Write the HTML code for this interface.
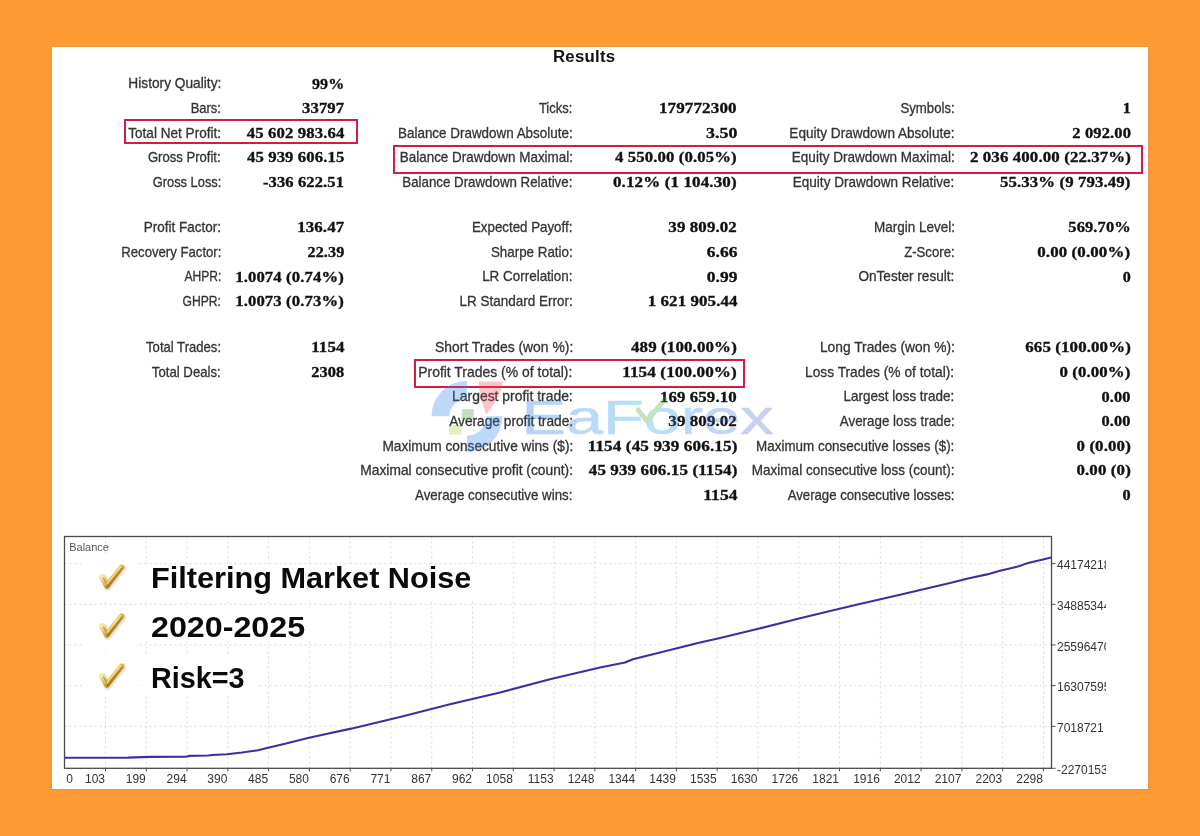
<!DOCTYPE html>
<html><head><meta charset="utf-8"><style>
html,body{margin:0;padding:0;}
body{width:1200px;height:836px;overflow:hidden;background:#fe9a33;position:relative;font-family:"Liberation Sans",sans-serif;}
#wrap{position:absolute;left:0;top:0;width:1200px;height:836px;filter:blur(0.5px);}
.panel{position:absolute;left:52px;top:47px;width:1096px;height:742px;background:#fff;box-shadow:0 0 0 1px rgba(200,140,80,0.35);}
.t{position:absolute;white-space:nowrap;line-height:1;}
.box{position:absolute;box-sizing:border-box;border:2.9px solid #d41a48;}
.chart{position:absolute;left:0;top:0;}
.g{stroke:#d9d9d9;stroke-width:1;stroke-dasharray:2 3;}
.tk{stroke:#4a4a4a;stroke-width:1;}
.ck{position:absolute;}
.pp{}
.pc{}
.pc0{}
</style></head><body>
<div id="wrap">
<div class="panel"></div>
<div class="t" style="right:979.00px;top:76.48px;font-size:14.5px;letter-spacing:0px;color:#333;transform:scaleX(0.9455);transform-origin:100% 0;-webkit-text-stroke:0.3px #333;">History Quality:</div>
<div class="t" style="right:856.00px;top:75.63px;font-size:15.5px;letter-spacing:0.1px;font-weight:bold;color:#111;font-family:'Liberation Serif',serif;-webkit-text-stroke:0.35px #111;transform:scaleX(1.0323);transform-origin:100% 0;">99<span style="letter-spacing:0"><span class="pc0">%</span></span></div>
<div class="t" style="right:979.00px;top:101.08px;font-size:14.5px;letter-spacing:0px;color:#333;transform:scaleX(0.8925);transform-origin:100% 0;-webkit-text-stroke:0.3px #333;">Bars:</div>
<div class="t" style="right:856.00px;top:100.23px;font-size:15.5px;letter-spacing:0.1px;font-weight:bold;color:#111;font-family:'Liberation Serif',serif;-webkit-text-stroke:0.35px #111;transform:scaleX(1.0769);transform-origin:100% 0;">3379<span style="letter-spacing:0">7</span></div>
<div class="t" style="right:979.00px;top:125.68px;font-size:14.5px;letter-spacing:0px;color:#333;transform:scaleX(0.9376);transform-origin:100% 0;-webkit-text-stroke:0.3px #333;">Total Net Profit:</div>
<div class="t" style="right:856.00px;top:124.83px;font-size:15.5px;letter-spacing:0.1px;font-weight:bold;color:#111;font-family:'Liberation Serif',serif;-webkit-text-stroke:0.35px #111;transform:scaleX(1.0800);transform-origin:100% 0;">45 602 983.6<span style="letter-spacing:0">4</span></div>
<div class="t" style="right:979.00px;top:150.28px;font-size:14.5px;letter-spacing:0px;color:#333;transform:scaleX(0.9021);transform-origin:100% 0;-webkit-text-stroke:0.3px #333;">Gross Profit:</div>
<div class="t" style="right:856.00px;top:149.43px;font-size:15.5px;letter-spacing:0.1px;font-weight:bold;color:#111;font-family:'Liberation Serif',serif;-webkit-text-stroke:0.35px #111;transform:scaleX(1.0778);transform-origin:100% 0;">45 939 606.1<span style="letter-spacing:0">5</span></div>
<div class="t" style="right:979.00px;top:174.88px;font-size:14.5px;letter-spacing:0px;color:#333;transform:scaleX(0.8874);transform-origin:100% 0;-webkit-text-stroke:0.3px #333;">Gross Loss:</div>
<div class="t" style="right:856.00px;top:174.03px;font-size:15.5px;letter-spacing:0.1px;font-weight:bold;color:#111;font-family:'Liberation Serif',serif;-webkit-text-stroke:0.35px #111;transform:scaleX(1.0658);transform-origin:100% 0;">-336 622.5<span style="letter-spacing:0">1</span></div>
<div class="t" style="right:979.00px;top:220.23px;font-size:14.5px;letter-spacing:0px;color:#333;transform:scaleX(0.9300);transform-origin:100% 0;-webkit-text-stroke:0.3px #333;">Profit Factor:</div>
<div class="t" style="right:856.00px;top:219.38px;font-size:15.5px;letter-spacing:0.1px;font-weight:bold;color:#111;font-family:'Liberation Serif',serif;-webkit-text-stroke:0.35px #111;transform:scaleX(1.0893);transform-origin:100% 0;">136.4<span style="letter-spacing:0">7</span></div>
<div class="t" style="right:979.00px;top:244.83px;font-size:14.5px;letter-spacing:0px;color:#333;transform:scaleX(0.9070);transform-origin:100% 0;-webkit-text-stroke:0.3px #333;">Recovery Factor:</div>
<div class="t" style="right:856.00px;top:243.98px;font-size:15.5px;letter-spacing:0.1px;font-weight:bold;color:#111;font-family:'Liberation Serif',serif;-webkit-text-stroke:0.35px #111;transform:scaleX(1.0429);transform-origin:100% 0;">22.3<span style="letter-spacing:0">9</span></div>
<div class="t" style="right:979.00px;top:269.43px;font-size:14.5px;letter-spacing:0px;color:#333;transform:scaleX(0.8336);transform-origin:100% 0;-webkit-text-stroke:0.3px #333;">AHPR:</div>
<div class="t" style="right:856.00px;top:268.58px;font-size:15.5px;letter-spacing:0.1px;font-weight:bold;color:#111;font-family:'Liberation Serif',serif;-webkit-text-stroke:0.35px #111;transform:scaleX(1.0775);transform-origin:100% 0;">1.0074 <span class="pp">(</span>0.74<span class="pc">%</span><span style="letter-spacing:0">)</span></div>
<div class="t" style="right:979.00px;top:294.03px;font-size:14.5px;letter-spacing:0px;color:#333;transform:scaleX(0.8359);transform-origin:100% 0;-webkit-text-stroke:0.3px #333;">GHPR:</div>
<div class="t" style="right:856.00px;top:293.18px;font-size:15.5px;letter-spacing:0.1px;font-weight:bold;color:#111;font-family:'Liberation Serif',serif;-webkit-text-stroke:0.35px #111;transform:scaleX(1.0775);transform-origin:100% 0;">1.0073 <span class="pp">(</span>0.73<span class="pc">%</span><span style="letter-spacing:0">)</span></div>
<div class="t" style="right:979.00px;top:340.23px;font-size:14.5px;letter-spacing:0px;color:#333;transform:scaleX(0.9028);transform-origin:100% 0;-webkit-text-stroke:0.3px #333;">Total Trades:</div>
<div class="t" style="right:856.00px;top:339.38px;font-size:15.5px;letter-spacing:0.1px;font-weight:bold;color:#111;font-family:'Liberation Serif',serif;-webkit-text-stroke:0.35px #111;transform:scaleX(1.0917);transform-origin:100% 0;">115<span style="letter-spacing:0">4</span></div>
<div class="t" style="right:979.00px;top:364.83px;font-size:14.5px;letter-spacing:0px;color:#333;transform:scaleX(0.9101);transform-origin:100% 0;-webkit-text-stroke:0.3px #333;">Total Deals:</div>
<div class="t" style="right:856.00px;top:363.98px;font-size:15.5px;letter-spacing:0.1px;font-weight:bold;color:#111;font-family:'Liberation Serif',serif;-webkit-text-stroke:0.35px #111;transform:scaleX(1.0565);transform-origin:100% 0;">230<span style="letter-spacing:0">8</span></div>
<div class="t" style="right:627.20px;top:101.08px;font-size:14.5px;letter-spacing:0px;color:#333;transform:scaleX(0.8953);transform-origin:100% 0;-webkit-text-stroke:0.3px #333;">Ticks:</div>
<div class="t" style="right:463.00px;top:100.23px;font-size:15.5px;letter-spacing:0.1px;font-weight:bold;color:#111;font-family:'Liberation Serif',serif;-webkit-text-stroke:0.35px #111;transform:scaleX(1.1000);transform-origin:100% 0;">17977230<span style="letter-spacing:0">0</span></div>
<div class="t" style="right:627.20px;top:125.68px;font-size:14.5px;letter-spacing:0px;color:#333;transform:scaleX(0.9257);transform-origin:100% 0;-webkit-text-stroke:0.3px #333;">Balance Drawdown Absolute:</div>
<div class="t" style="right:463.00px;top:124.83px;font-size:15.5px;letter-spacing:0.1px;font-weight:bold;color:#111;font-family:'Liberation Serif',serif;-webkit-text-stroke:0.35px #111;transform:scaleX(1.1481);transform-origin:100% 0;">3.5<span style="letter-spacing:0">0</span></div>
<div class="t" style="right:627.20px;top:150.28px;font-size:14.5px;letter-spacing:0px;color:#333;transform:scaleX(0.9262);transform-origin:100% 0;-webkit-text-stroke:0.3px #333;">Balance Drawdown Maximal:</div>
<div class="t" style="right:463.00px;top:149.43px;font-size:15.5px;letter-spacing:0.1px;font-weight:bold;color:#111;font-family:'Liberation Serif',serif;-webkit-text-stroke:0.35px #111;transform:scaleX(1.0796);transform-origin:100% 0;">4 550.00 <span class="pp">(</span>0.05<span class="pc">%</span><span style="letter-spacing:0">)</span></div>
<div class="t" style="right:627.20px;top:174.88px;font-size:14.5px;letter-spacing:0px;color:#333;transform:scaleX(0.9175);transform-origin:100% 0;-webkit-text-stroke:0.3px #333;">Balance Drawdown Relative:</div>
<div class="t" style="right:463.00px;top:174.03px;font-size:15.5px;letter-spacing:0.1px;font-weight:bold;color:#111;font-family:'Liberation Serif',serif;-webkit-text-stroke:0.35px #111;transform:scaleX(1.0982);transform-origin:100% 0;">0.12<span class="pc">%</span> <span class="pp">(</span>1 104.30<span style="letter-spacing:0">)</span></div>
<div class="t" style="right:627.20px;top:220.23px;font-size:14.5px;letter-spacing:0px;color:#333;transform:scaleX(0.9180);transform-origin:100% 0;-webkit-text-stroke:0.3px #333;">Expected Payoff:</div>
<div class="t" style="right:463.00px;top:219.38px;font-size:15.5px;letter-spacing:0.1px;font-weight:bold;color:#111;font-family:'Liberation Serif',serif;-webkit-text-stroke:0.35px #111;transform:scaleX(1.0905);transform-origin:100% 0;">39 809.0<span style="letter-spacing:0">2</span></div>
<div class="t" style="right:627.20px;top:244.83px;font-size:14.5px;letter-spacing:0px;color:#333;transform:scaleX(0.9220);transform-origin:100% 0;-webkit-text-stroke:0.3px #333;">Sharpe Ratio:</div>
<div class="t" style="right:463.00px;top:243.98px;font-size:15.5px;letter-spacing:0.1px;font-weight:bold;color:#111;font-family:'Liberation Serif',serif;-webkit-text-stroke:0.35px #111;transform:scaleX(1.1222);transform-origin:100% 0;">6.6<span style="letter-spacing:0">6</span></div>
<div class="t" style="right:627.20px;top:269.43px;font-size:14.5px;letter-spacing:0px;color:#333;transform:scaleX(0.9269);transform-origin:100% 0;-webkit-text-stroke:0.3px #333;">LR Correlation:</div>
<div class="t" style="right:463.00px;top:268.58px;font-size:15.5px;letter-spacing:0.1px;font-weight:bold;color:#111;font-family:'Liberation Serif',serif;-webkit-text-stroke:0.35px #111;transform:scaleX(1.1222);transform-origin:100% 0;">0.9<span style="letter-spacing:0">9</span></div>
<div class="t" style="right:627.20px;top:294.03px;font-size:14.5px;letter-spacing:0px;color:#333;transform:scaleX(0.9300);transform-origin:100% 0;-webkit-text-stroke:0.3px #333;">LR Standard Error:</div>
<div class="t" style="right:463.00px;top:293.18px;font-size:15.5px;letter-spacing:0.1px;font-weight:bold;color:#111;font-family:'Liberation Serif',serif;-webkit-text-stroke:0.35px #111;transform:scaleX(1.0890);transform-origin:100% 0;">1 621 905.4<span style="letter-spacing:0">4</span></div>
<div class="t" style="right:627.20px;top:340.23px;font-size:14.5px;letter-spacing:0px;color:#333;transform:scaleX(0.9580);transform-origin:100% 0;-webkit-text-stroke:0.3px #333;">Short Trades (won %):</div>
<div class="t" style="right:463.00px;top:339.38px;font-size:15.5px;letter-spacing:0.1px;font-weight:bold;color:#111;font-family:'Liberation Serif',serif;-webkit-text-stroke:0.35px #111;transform:scaleX(1.0928);transform-origin:100% 0;">489 <span class="pp">(</span>100.00<span class="pc">%</span><span style="letter-spacing:0">)</span></div>
<div class="t" style="right:627.20px;top:364.83px;font-size:14.5px;letter-spacing:0px;color:#333;transform:scaleX(0.9613);transform-origin:100% 0;-webkit-text-stroke:0.3px #333;">Profit Trades (% of total):</div>
<div class="t" style="right:463.00px;top:363.98px;font-size:15.5px;letter-spacing:0.1px;font-weight:bold;color:#111;font-family:'Liberation Serif',serif;-webkit-text-stroke:0.35px #111;transform:scaleX(1.1039);transform-origin:100% 0;">1154 <span class="pp">(</span>100.00<span class="pc">%</span><span style="letter-spacing:0">)</span></div>
<div class="t" style="right:627.20px;top:389.43px;font-size:14.5px;letter-spacing:0px;color:#333;transform:scaleX(0.9597);transform-origin:100% 0;-webkit-text-stroke:0.3px #333;">Largest profit trade:</div>
<div class="t" style="right:463.00px;top:388.58px;font-size:15.5px;letter-spacing:0.1px;font-weight:bold;color:#111;font-family:'Liberation Serif',serif;-webkit-text-stroke:0.35px #111;transform:scaleX(1.0857);transform-origin:100% 0;">169 659.1<span style="letter-spacing:0">0</span></div>
<div class="t" style="right:627.20px;top:414.03px;font-size:14.5px;letter-spacing:0px;color:#333;transform:scaleX(0.9453);transform-origin:100% 0;-webkit-text-stroke:0.3px #333;">Average profit trade:</div>
<div class="t" style="right:463.00px;top:413.18px;font-size:15.5px;letter-spacing:0.1px;font-weight:bold;color:#111;font-family:'Liberation Serif',serif;-webkit-text-stroke:0.35px #111;transform:scaleX(1.0905);transform-origin:100% 0;">39 809.0<span style="letter-spacing:0">2</span></div>
<div class="t" style="right:627.20px;top:438.63px;font-size:14.5px;letter-spacing:0px;color:#333;transform:scaleX(0.9434);transform-origin:100% 0;-webkit-text-stroke:0.3px #333;">Maximum consecutive wins ($):</div>
<div class="t" style="right:463.00px;top:437.78px;font-size:15.5px;letter-spacing:0.1px;font-weight:bold;color:#111;font-family:'Liberation Serif',serif;-webkit-text-stroke:0.35px #111;transform:scaleX(1.1059);transform-origin:100% 0;">1154 <span class="pp">(</span>45 939 606.15<span style="letter-spacing:0">)</span></div>
<div class="t" style="right:627.20px;top:463.23px;font-size:14.5px;letter-spacing:0px;color:#333;transform:scaleX(0.9493);transform-origin:100% 0;-webkit-text-stroke:0.3px #333;">Maximal consecutive profit (count):</div>
<div class="t" style="right:463.00px;top:462.38px;font-size:15.5px;letter-spacing:0.1px;font-weight:bold;color:#111;font-family:'Liberation Serif',serif;-webkit-text-stroke:0.35px #111;transform:scaleX(1.0978);transform-origin:100% 0;">45 939 606.15 <span class="pp">(</span>1154<span style="letter-spacing:0">)</span></div>
<div class="t" style="right:627.20px;top:487.83px;font-size:14.5px;letter-spacing:0px;color:#333;transform:scaleX(0.9184);transform-origin:100% 0;-webkit-text-stroke:0.3px #333;">Average consecutive wins:</div>
<div class="t" style="right:463.00px;top:486.98px;font-size:15.5px;letter-spacing:0.1px;font-weight:bold;color:#111;font-family:'Liberation Serif',serif;-webkit-text-stroke:0.35px #111;transform:scaleX(1.1233);transform-origin:100% 0;">115<span style="letter-spacing:0">4</span></div>
<div class="t" style="right:245.40px;top:101.08px;font-size:14.5px;letter-spacing:0px;color:#333;transform:scaleX(0.9079);transform-origin:100% 0;-webkit-text-stroke:0.3px #333;">Symbols:</div>
<div class="t" style="right:69.50px;top:100.23px;font-size:15.5px;letter-spacing:0.1px;font-weight:bold;color:#111;font-family:'Liberation Serif',serif;-webkit-text-stroke:0.35px #111;transform:scaleX(1.0462);transform-origin:100% 0;"><span style="letter-spacing:0">1</span></div>
<div class="t" style="right:245.40px;top:125.68px;font-size:14.5px;letter-spacing:0px;color:#333;transform:scaleX(0.9357);transform-origin:100% 0;-webkit-text-stroke:0.3px #333;">Equity Drawdown Absolute:</div>
<div class="t" style="right:69.50px;top:124.83px;font-size:15.5px;letter-spacing:0.1px;font-weight:bold;color:#111;font-family:'Liberation Serif',serif;-webkit-text-stroke:0.35px #111;transform:scaleX(1.0679);transform-origin:100% 0;">2 092.0<span style="letter-spacing:0">0</span></div>
<div class="t" style="right:245.40px;top:150.28px;font-size:14.5px;letter-spacing:0px;color:#333;transform:scaleX(0.9323);transform-origin:100% 0;-webkit-text-stroke:0.3px #333;">Equity Drawdown Maximal:</div>
<div class="t" style="right:69.50px;top:149.43px;font-size:15.5px;letter-spacing:0.1px;font-weight:bold;color:#111;font-family:'Liberation Serif',serif;-webkit-text-stroke:0.35px #111;transform:scaleX(1.0881);transform-origin:100% 0;">2 036 400.00 <span class="pp">(</span>22.37<span class="pc">%</span><span style="letter-spacing:0">)</span></div>
<div class="t" style="right:245.40px;top:174.88px;font-size:14.5px;letter-spacing:0px;color:#333;transform:scaleX(0.9317);transform-origin:100% 0;-webkit-text-stroke:0.3px #333;">Equity Drawdown Relative:</div>
<div class="t" style="right:69.50px;top:174.03px;font-size:15.5px;letter-spacing:0.1px;font-weight:bold;color:#111;font-family:'Liberation Serif',serif;-webkit-text-stroke:0.35px #111;transform:scaleX(1.0830);transform-origin:100% 0;">55.33<span class="pc">%</span> <span class="pp">(</span>9 793.49<span style="letter-spacing:0">)</span></div>
<div class="t" style="right:245.40px;top:220.23px;font-size:14.5px;letter-spacing:0px;color:#333;transform:scaleX(0.9300);transform-origin:100% 0;-webkit-text-stroke:0.3px #333;">Margin Level:</div>
<div class="t" style="right:69.50px;top:219.38px;font-size:15.5px;letter-spacing:0.1px;font-weight:bold;color:#111;font-family:'Liberation Serif',serif;-webkit-text-stroke:0.35px #111;transform:scaleX(1.0632);transform-origin:100% 0;">569.70<span style="letter-spacing:0"><span class="pc0">%</span></span></div>
<div class="t" style="right:245.40px;top:244.83px;font-size:14.5px;letter-spacing:0px;color:#333;transform:scaleX(0.9066);transform-origin:100% 0;-webkit-text-stroke:0.3px #333;">Z-Score:</div>
<div class="t" style="right:69.50px;top:243.98px;font-size:15.5px;letter-spacing:0.1px;font-weight:bold;color:#111;font-family:'Liberation Serif',serif;-webkit-text-stroke:0.35px #111;transform:scaleX(1.0911);transform-origin:100% 0;">0.00 <span class="pp">(</span>0.00<span class="pc">%</span><span style="letter-spacing:0">)</span></div>
<div class="t" style="right:245.40px;top:269.43px;font-size:14.5px;letter-spacing:0px;color:#333;transform:scaleX(0.9369);transform-origin:100% 0;-webkit-text-stroke:0.3px #333;">OnTester result:</div>
<div class="t" style="right:69.50px;top:268.58px;font-size:15.5px;letter-spacing:0.1px;font-weight:bold;color:#111;font-family:'Liberation Serif',serif;-webkit-text-stroke:0.35px #111;transform:scaleX(1.0400);transform-origin:100% 0;"><span style="letter-spacing:0">0</span></div>
<div class="t" style="right:245.40px;top:340.23px;font-size:14.5px;letter-spacing:0px;color:#333;transform:scaleX(0.9514);transform-origin:100% 0;-webkit-text-stroke:0.3px #333;">Long Trades (won %):</div>
<div class="t" style="right:69.50px;top:339.38px;font-size:15.5px;letter-spacing:0.1px;font-weight:bold;color:#111;font-family:'Liberation Serif',serif;-webkit-text-stroke:0.35px #111;transform:scaleX(1.0902);transform-origin:100% 0;">665 <span class="pp">(</span>100.00<span class="pc">%</span><span style="letter-spacing:0">)</span></div>
<div class="t" style="right:245.40px;top:364.83px;font-size:14.5px;letter-spacing:0px;color:#333;transform:scaleX(0.9492);transform-origin:100% 0;-webkit-text-stroke:0.3px #333;">Loss Trades (% of total):</div>
<div class="t" style="right:69.50px;top:363.98px;font-size:15.5px;letter-spacing:0.1px;font-weight:bold;color:#111;font-family:'Liberation Serif',serif;-webkit-text-stroke:0.35px #111;transform:scaleX(1.0855);transform-origin:100% 0;">0 <span class="pp">(</span>0.00<span class="pc">%</span><span style="letter-spacing:0">)</span></div>
<div class="t" style="right:245.40px;top:389.43px;font-size:14.5px;letter-spacing:0px;color:#333;transform:scaleX(0.9283);transform-origin:100% 0;-webkit-text-stroke:0.3px #333;">Largest loss trade:</div>
<div class="t" style="right:69.50px;top:388.58px;font-size:15.5px;letter-spacing:0.1px;font-weight:bold;color:#111;font-family:'Liberation Serif',serif;-webkit-text-stroke:0.35px #111;transform:scaleX(1.0545);transform-origin:100% 0;">0.0<span style="letter-spacing:0">0</span></div>
<div class="t" style="right:245.40px;top:414.03px;font-size:14.5px;letter-spacing:0px;color:#333;transform:scaleX(0.9212);transform-origin:100% 0;-webkit-text-stroke:0.3px #333;">Average loss trade:</div>
<div class="t" style="right:69.50px;top:413.18px;font-size:15.5px;letter-spacing:0.1px;font-weight:bold;color:#111;font-family:'Liberation Serif',serif;-webkit-text-stroke:0.35px #111;transform:scaleX(1.0545);transform-origin:100% 0;">0.0<span style="letter-spacing:0">0</span></div>
<div class="t" style="right:245.40px;top:438.63px;font-size:14.5px;letter-spacing:0px;color:#333;transform:scaleX(0.9248);transform-origin:100% 0;-webkit-text-stroke:0.3px #333;">Maximum consecutive losses ($):</div>
<div class="t" style="right:69.50px;top:437.78px;font-size:15.5px;letter-spacing:0.1px;font-weight:bold;color:#111;font-family:'Liberation Serif',serif;-webkit-text-stroke:0.35px #111;transform:scaleX(1.0909);transform-origin:100% 0;">0 <span class="pp">(</span>0.00<span style="letter-spacing:0">)</span></div>
<div class="t" style="right:245.40px;top:463.23px;font-size:14.5px;letter-spacing:0px;color:#333;transform:scaleX(0.9318);transform-origin:100% 0;-webkit-text-stroke:0.3px #333;">Maximal consecutive loss (count):</div>
<div class="t" style="right:69.50px;top:462.38px;font-size:15.5px;letter-spacing:0.1px;font-weight:bold;color:#111;font-family:'Liberation Serif',serif;-webkit-text-stroke:0.35px #111;transform:scaleX(1.0909);transform-origin:100% 0;">0.00 <span class="pp">(</span>0<span style="letter-spacing:0">)</span></div>
<div class="t" style="right:245.40px;top:487.83px;font-size:14.5px;letter-spacing:0px;color:#333;transform:scaleX(0.9093);transform-origin:100% 0;-webkit-text-stroke:0.3px #333;">Average consecutive losses:</div>
<div class="t" style="right:69.50px;top:486.98px;font-size:15.5px;letter-spacing:0.1px;font-weight:bold;color:#111;font-family:'Liberation Serif',serif;-webkit-text-stroke:0.35px #111;transform:scaleX(1.0533);transform-origin:100% 0;"><span style="letter-spacing:0">0</span></div>
<div class="box" style="left:124px;top:119.3px;width:233.5px;height:24.700000000000003px"></div>
<div class="box" style="left:393px;top:145px;width:749.8px;height:28.599999999999994px"></div>
<div class="box" style="left:413.8px;top:358.8px;width:331.2px;height:29.19999999999999px"></div>
<div class="t" style="left:553.00px;top:49.18px;font-size:16.8px;letter-spacing:0.25px;font-weight:bold;color:#111;">Results</div>
<svg class="chart" width="1200" height="836" viewBox="0 0 1200 836">
<line x1="105.50" y1="536.5" x2="105.50" y2="768.3" class="g"/>
<line x1="146.28" y1="536.5" x2="146.28" y2="768.3" class="g"/>
<line x1="187.06" y1="536.5" x2="187.06" y2="768.3" class="g"/>
<line x1="227.84" y1="536.5" x2="227.84" y2="768.3" class="g"/>
<line x1="268.62" y1="536.5" x2="268.62" y2="768.3" class="g"/>
<line x1="309.40" y1="536.5" x2="309.40" y2="768.3" class="g"/>
<line x1="350.18" y1="536.5" x2="350.18" y2="768.3" class="g"/>
<line x1="390.96" y1="536.5" x2="390.96" y2="768.3" class="g"/>
<line x1="431.74" y1="536.5" x2="431.74" y2="768.3" class="g"/>
<line x1="472.52" y1="536.5" x2="472.52" y2="768.3" class="g"/>
<line x1="513.30" y1="536.5" x2="513.30" y2="768.3" class="g"/>
<line x1="554.08" y1="536.5" x2="554.08" y2="768.3" class="g"/>
<line x1="594.86" y1="536.5" x2="594.86" y2="768.3" class="g"/>
<line x1="635.64" y1="536.5" x2="635.64" y2="768.3" class="g"/>
<line x1="676.42" y1="536.5" x2="676.42" y2="768.3" class="g"/>
<line x1="717.20" y1="536.5" x2="717.20" y2="768.3" class="g"/>
<line x1="757.98" y1="536.5" x2="757.98" y2="768.3" class="g"/>
<line x1="798.76" y1="536.5" x2="798.76" y2="768.3" class="g"/>
<line x1="839.54" y1="536.5" x2="839.54" y2="768.3" class="g"/>
<line x1="880.32" y1="536.5" x2="880.32" y2="768.3" class="g"/>
<line x1="921.10" y1="536.5" x2="921.10" y2="768.3" class="g"/>
<line x1="961.88" y1="536.5" x2="961.88" y2="768.3" class="g"/>
<line x1="1002.66" y1="536.5" x2="1002.66" y2="768.3" class="g"/>
<line x1="1043.44" y1="536.5" x2="1043.44" y2="768.3" class="g"/>
<line x1="64.5" y1="563.60" x2="1051.5" y2="563.60" class="g"/>
<line x1="64.5" y1="604.27" x2="1051.5" y2="604.27" class="g"/>
<line x1="64.5" y1="644.95" x2="1051.5" y2="644.95" class="g"/>
<line x1="64.5" y1="685.62" x2="1051.5" y2="685.62" class="g"/>
<line x1="64.5" y1="726.30" x2="1051.5" y2="726.30" class="g"/>
<line x1="105.50" y1="768.3" x2="105.50" y2="771.3" class="tk"/>
<line x1="146.28" y1="768.3" x2="146.28" y2="771.3" class="tk"/>
<line x1="187.06" y1="768.3" x2="187.06" y2="771.3" class="tk"/>
<line x1="227.84" y1="768.3" x2="227.84" y2="771.3" class="tk"/>
<line x1="268.62" y1="768.3" x2="268.62" y2="771.3" class="tk"/>
<line x1="309.40" y1="768.3" x2="309.40" y2="771.3" class="tk"/>
<line x1="350.18" y1="768.3" x2="350.18" y2="771.3" class="tk"/>
<line x1="390.96" y1="768.3" x2="390.96" y2="771.3" class="tk"/>
<line x1="431.74" y1="768.3" x2="431.74" y2="771.3" class="tk"/>
<line x1="472.52" y1="768.3" x2="472.52" y2="771.3" class="tk"/>
<line x1="513.30" y1="768.3" x2="513.30" y2="771.3" class="tk"/>
<line x1="554.08" y1="768.3" x2="554.08" y2="771.3" class="tk"/>
<line x1="594.86" y1="768.3" x2="594.86" y2="771.3" class="tk"/>
<line x1="635.64" y1="768.3" x2="635.64" y2="771.3" class="tk"/>
<line x1="676.42" y1="768.3" x2="676.42" y2="771.3" class="tk"/>
<line x1="717.20" y1="768.3" x2="717.20" y2="771.3" class="tk"/>
<line x1="757.98" y1="768.3" x2="757.98" y2="771.3" class="tk"/>
<line x1="798.76" y1="768.3" x2="798.76" y2="771.3" class="tk"/>
<line x1="839.54" y1="768.3" x2="839.54" y2="771.3" class="tk"/>
<line x1="880.32" y1="768.3" x2="880.32" y2="771.3" class="tk"/>
<line x1="921.10" y1="768.3" x2="921.10" y2="771.3" class="tk"/>
<line x1="961.88" y1="768.3" x2="961.88" y2="771.3" class="tk"/>
<line x1="1002.66" y1="768.3" x2="1002.66" y2="771.3" class="tk"/>
<line x1="1043.44" y1="768.3" x2="1043.44" y2="771.3" class="tk"/>
<line x1="1051.5" y1="563.60" x2="1055.5" y2="563.60" class="tk"/>
<line x1="1051.5" y1="604.27" x2="1055.5" y2="604.27" class="tk"/>
<line x1="1051.5" y1="644.95" x2="1055.5" y2="644.95" class="tk"/>
<line x1="1051.5" y1="685.62" x2="1055.5" y2="685.62" class="tk"/>
<line x1="1051.5" y1="726.30" x2="1055.5" y2="726.30" class="tk"/>
<line x1="1051.5" y1="768.30" x2="1055.5" y2="768.30" class="tk"/>
<rect x="64.5" y="536.5" width="987.0" height="231.79999999999995" fill="none" stroke="#4a4a4a" stroke-width="1.3"/>
<polyline fill="none" stroke="#3b30a0" stroke-width="2.1" stroke-linejoin="round" points="65,757.8 128,757.6 150,756.9 186,756.7 189,755.9 208,755.5 212,755 227,754.2 242,752.5 258,750.3 267,748 283,744.2 308,738 325,734.2 350,728.9 400,717 450,704.2 500,692.5 550,679.2 600,667.5 625,662.5 633,659.2 650,655 683,646.7 700,642.5 717,638.7 750,630.8 800,618.3 850,606.3 900,594.7 950,583.1 968,578.5 987,574.4 1000,570.7 1017,566.8 1021,565.6 1025,563.9 1030,562.6 1042,559.7 1051,557.4"/>
</svg>
<div class="t" style="left:66.30px;top:773.14px;font-size:12px;letter-spacing:0px;color:#333;">0</div>
<div class="t" style="right:1095.00px;top:773.14px;font-size:12px;letter-spacing:0px;color:#333;">103</div>
<div class="t" style="right:1054.22px;top:773.14px;font-size:12px;letter-spacing:0px;color:#333;">199</div>
<div class="t" style="right:1013.44px;top:773.14px;font-size:12px;letter-spacing:0px;color:#333;">294</div>
<div class="t" style="right:972.66px;top:773.14px;font-size:12px;letter-spacing:0px;color:#333;">390</div>
<div class="t" style="right:931.88px;top:773.14px;font-size:12px;letter-spacing:0px;color:#333;">485</div>
<div class="t" style="right:891.10px;top:773.14px;font-size:12px;letter-spacing:0px;color:#333;">580</div>
<div class="t" style="right:850.32px;top:773.14px;font-size:12px;letter-spacing:0px;color:#333;">676</div>
<div class="t" style="right:809.54px;top:773.14px;font-size:12px;letter-spacing:0px;color:#333;">771</div>
<div class="t" style="right:768.76px;top:773.14px;font-size:12px;letter-spacing:0px;color:#333;">867</div>
<div class="t" style="right:727.98px;top:773.14px;font-size:12px;letter-spacing:0px;color:#333;">962</div>
<div class="t" style="right:687.20px;top:773.14px;font-size:12px;letter-spacing:0px;color:#333;">1058</div>
<div class="t" style="right:646.42px;top:773.14px;font-size:12px;letter-spacing:0px;color:#333;">1153</div>
<div class="t" style="right:605.64px;top:773.14px;font-size:12px;letter-spacing:0px;color:#333;">1248</div>
<div class="t" style="right:564.86px;top:773.14px;font-size:12px;letter-spacing:0px;color:#333;">1344</div>
<div class="t" style="right:524.08px;top:773.14px;font-size:12px;letter-spacing:0px;color:#333;">1439</div>
<div class="t" style="right:483.30px;top:773.14px;font-size:12px;letter-spacing:0px;color:#333;">1535</div>
<div class="t" style="right:442.52px;top:773.14px;font-size:12px;letter-spacing:0px;color:#333;">1630</div>
<div class="t" style="right:401.74px;top:773.14px;font-size:12px;letter-spacing:0px;color:#333;">1726</div>
<div class="t" style="right:360.96px;top:773.14px;font-size:12px;letter-spacing:0px;color:#333;">1821</div>
<div class="t" style="right:320.18px;top:773.14px;font-size:12px;letter-spacing:0px;color:#333;">1916</div>
<div class="t" style="right:279.40px;top:773.14px;font-size:12px;letter-spacing:0px;color:#333;">2012</div>
<div class="t" style="right:238.62px;top:773.14px;font-size:12px;letter-spacing:0px;color:#333;">2107</div>
<div class="t" style="right:197.84px;top:773.14px;font-size:12px;letter-spacing:0px;color:#333;">2203</div>
<div class="t" style="right:157.06px;top:773.14px;font-size:12px;letter-spacing:0px;color:#333;">2298</div>
<div style="position:absolute;left:1056px;top:540px;width:50px;height:240px;overflow:hidden">
<div class="t" style="left:1px;top:19.24px;font-size:12px;color:#333">44174218</div>
<div class="t" style="left:1px;top:59.92px;font-size:12px;color:#333">34885344</div>
<div class="t" style="left:1px;top:100.59px;font-size:12px;color:#333">25596470</div>
<div class="t" style="left:1px;top:141.27px;font-size:12px;color:#333">16307595</div>
<div class="t" style="left:1px;top:181.94px;font-size:12px;color:#333">7018721</div>
<div class="t" style="left:1px;top:223.94px;font-size:12px;color:#333">-2270153</div>
</div>
<div class="t" style="left:69.20px;top:541.69px;font-size:11px;letter-spacing:0px;color:#555;">Balance</div>
<div style="position:absolute;left:140px;top:566px;width:342px;height:32px;background:#fff"></div>
<div style="position:absolute;left:140px;top:607px;width:172px;height:35px;background:#fff"></div>
<div style="position:absolute;left:140px;top:657px;width:117px;height:36px;background:#fff"></div>
<div style="position:absolute;left:82px;top:556px;width:54px;height:45px;background:#fff"></div>
<div style="position:absolute;left:82px;top:607px;width:54px;height:41px;background:#fff"></div>
<div style="position:absolute;left:82px;top:652px;width:54px;height:45px;background:#fff"></div>
<div class="t" style="left:150.90px;top:563.03px;font-size:29.5px;letter-spacing:0px;font-weight:bold;color:#0a0a0a;transform:scaleX(1.0396);transform-origin:0 0;">Filtering Market Noise</div>
<div class="t" style="left:150.50px;top:612.23px;font-size:29.5px;letter-spacing:0px;font-weight:bold;color:#0a0a0a;transform:scaleX(1.0923);transform-origin:0 0;">2020-2025</div>
<div class="t" style="left:150.70px;top:662.63px;font-size:29.5px;letter-spacing:0px;font-weight:bold;color:#0a0a0a;transform:scaleX(0.9745);transform-origin:0 0;">Risk=3</div>
<svg class="ck" style="left:96.5px;top:562.5px" width="30" height="30" viewBox="0 0 30 30">
<defs><linearGradient id="gd562" x1="0.2" y1="0.3" x2="0.8" y2="0.9"><stop offset="0" stop-color="#f6e59a"/><stop offset="0.35" stop-color="#e2bd4a"/><stop offset="0.7" stop-color="#c08a22"/><stop offset="1" stop-color="#7d5210"/></linearGradient></defs>
<path d="M5.2 13.8 L9.9 23 L24.6 4.2" fill="none" stroke="#8a6a30" stroke-opacity="0.18" stroke-width="7.5" stroke-linecap="round" stroke-linejoin="round" transform="translate(0.8,1.2)"/>
<path d="M5.2 13.8 L9.9 23 L24.6 4.2" fill="none" stroke="url(#gd562)" stroke-width="5.4" stroke-linecap="round" stroke-linejoin="round"/>
<path d="M4.6 13.2 L9.3 21.6 L23.6 3.6" fill="none" stroke="#fbf3c4" stroke-width="1.3" stroke-linecap="round" stroke-linejoin="round" opacity="0.75"/>
<path d="M6.4 15.2 L10.6 23.6 L25.2 5.4" fill="none" stroke="#8b5d14" stroke-width="1.1" stroke-linecap="round" stroke-linejoin="round" opacity="0.55"/>
</svg>
<svg class="ck" style="left:96.5px;top:612px" width="30" height="30" viewBox="0 0 30 30">
<defs><linearGradient id="gd612" x1="0.2" y1="0.3" x2="0.8" y2="0.9"><stop offset="0" stop-color="#f6e59a"/><stop offset="0.35" stop-color="#e2bd4a"/><stop offset="0.7" stop-color="#c08a22"/><stop offset="1" stop-color="#7d5210"/></linearGradient></defs>
<path d="M5.2 13.8 L9.9 23 L24.6 4.2" fill="none" stroke="#8a6a30" stroke-opacity="0.18" stroke-width="7.5" stroke-linecap="round" stroke-linejoin="round" transform="translate(0.8,1.2)"/>
<path d="M5.2 13.8 L9.9 23 L24.6 4.2" fill="none" stroke="url(#gd612)" stroke-width="5.4" stroke-linecap="round" stroke-linejoin="round"/>
<path d="M4.6 13.2 L9.3 21.6 L23.6 3.6" fill="none" stroke="#fbf3c4" stroke-width="1.3" stroke-linecap="round" stroke-linejoin="round" opacity="0.75"/>
<path d="M6.4 15.2 L10.6 23.6 L25.2 5.4" fill="none" stroke="#8b5d14" stroke-width="1.1" stroke-linecap="round" stroke-linejoin="round" opacity="0.55"/>
</svg>
<svg class="ck" style="left:96.5px;top:661.5px" width="30" height="30" viewBox="0 0 30 30">
<defs><linearGradient id="gd661" x1="0.2" y1="0.3" x2="0.8" y2="0.9"><stop offset="0" stop-color="#f6e59a"/><stop offset="0.35" stop-color="#e2bd4a"/><stop offset="0.7" stop-color="#c08a22"/><stop offset="1" stop-color="#7d5210"/></linearGradient></defs>
<path d="M5.2 13.8 L9.9 23 L24.6 4.2" fill="none" stroke="#8a6a30" stroke-opacity="0.18" stroke-width="7.5" stroke-linecap="round" stroke-linejoin="round" transform="translate(0.8,1.2)"/>
<path d="M5.2 13.8 L9.9 23 L24.6 4.2" fill="none" stroke="url(#gd661)" stroke-width="5.4" stroke-linecap="round" stroke-linejoin="round"/>
<path d="M4.6 13.2 L9.3 21.6 L23.6 3.6" fill="none" stroke="#fbf3c4" stroke-width="1.3" stroke-linecap="round" stroke-linejoin="round" opacity="0.75"/>
<path d="M6.4 15.2 L10.6 23.6 L25.2 5.4" fill="none" stroke="#8b5d14" stroke-width="1.1" stroke-linecap="round" stroke-linejoin="round" opacity="0.55"/>
</svg>
<svg class="chart" width="1200" height="836" viewBox="0 0 1200 836">
<defs><linearGradient id="wmg" x1="524" y1="0" x2="772" y2="0" gradientUnits="userSpaceOnUse"><stop offset="0" stop-color="rgb(22,105,222)"/><stop offset="0.5" stop-color="rgb(20,160,230)"/><stop offset="1" stop-color="rgb(88,88,222)"/></linearGradient></defs>
<g opacity="0.3">
<path d="M431.50,416.30 A35.5,35.5 0 0 1 467.00,380.80 L467.00,398.80 A17.5,17.5 0 0 0 449.50,416.30 Z" fill="rgb(40,130,235)"/>
<path d="M502.50,416.30 A35.5,35.5 0 0 1 467.00,451.80 L467.00,435.80 A19.5,19.5 0 0 0 486.50,416.30 Z" fill="rgb(40,130,235)"/>
<path d="M478.6,381.5 L503.5,381.5 Q499,400 486.2,414.4 Q479.5,398 478.6,381.5 Z" fill="rgb(235,70,80)"/>
<rect x="461.8" y="409.1" width="12" height="10" fill="rgb(60,150,50)"/>
<rect x="448.9" y="424.9" width="12.5" height="9.6" fill="rgb(160,205,30)"/>
<text x="521.5" y="433.6" font-family="Liberation Sans" font-size="48.5" fill="url(#wmg)" stroke="url(#wmg)" stroke-width="0.6" stroke-linejoin="round" textLength="252" lengthAdjust="spacingAndGlyphs">EaForex</text>
<path d="M638,410 L647,421 L665,399" fill="none" stroke="rgb(70,165,50)" stroke-width="5" stroke-linecap="round" stroke-linejoin="round"/>
</g>
</svg>
</div></body></html>
